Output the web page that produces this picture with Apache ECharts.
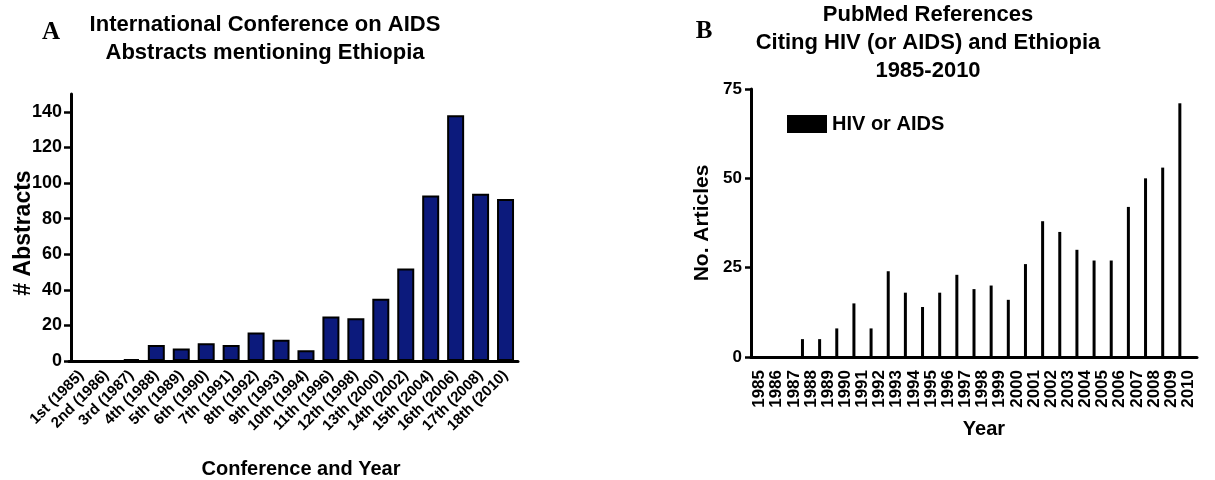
<!DOCTYPE html>
<html><head><meta charset="utf-8">
<script src="https://cdn.jsdelivr.net/npm/echarts@6/dist/echarts.min.js"></script>
<style>html,body{margin:0;padding:0;background:#fff}#c{width:1215px;height:480px}</style>
</head><body><div id="c"></div>
<script>
const conferences = ['1st (1985)','2nd (1986)','3rd (1987)','4th (1988)','5th (1989)','6th (1990)','7th (1991)','8th (1992)','9th (1993)','10th (1994)','11th (1996)','12th (1998)','13th (2000)','14th (2002)','15th (2004)','16th (2006)','17th (2008)','18th (2010)'];
const abstracts = [0,0,1,9,7,10,9,16,12,6,25,24,35,52,93,138,94,91];
const abstractTicks = [0,20,40,60,80,100,120,140];
const years = ['1985','1986','1987','1988','1989','1990','1991','1992','1993','1994','1995','1996','1997','1998','1999','2000','2001','2002','2003','2004','2005','2006','2007','2008','2009','2010'];
const articles = [0,0,0,5,5,8,15,8,24,18,14,18,23,19,20,16,26,38,35,30,27,27,42,50,53,71];
const articleTicks = [0,25,50,75];
const edges = years.concat(['']);

const font = "'Liberation Sans', Arial, Helvetica, sans-serif";
const chart = echarts.init(document.getElementById('c'));
const black = '#000';
chart.setOption({
  animation: false,
  textStyle: {fontFamily: font, color: black},
  graphic: [
    {type:'text', x:265, y:11, style:{text:'International Conference on AIDS\nAbstracts mentioning Ethiopia', align:'center', verticalAlign:'top', font:"bold 22px " + font, lineHeight:28, fill:black}},
    {type:'text', x:928, y:1, style:{text:'PubMed References\nCiting HIV (or AIDS) and Ethiopia\n1985-2010', align:'center', verticalAlign:'top', font:"bold 22px " + font, lineHeight:28, fill:black}},
    {type:'text', x:51, y:33, style:{text:'A', align:'center', verticalAlign:'middle', font:"bold 25px 'Liberation Serif', 'Times New Roman', serif", fill:black}},
    {type:'text', x:704, y:32, style:{text:'B', align:'center', verticalAlign:'middle', font:"bold 25px 'Liberation Serif', 'Times New Roman', serif", fill:black}}
  ],
  legend: {
    data: ['HIV or AIDS'], left: 787, top: 114, padding: 0,
    itemWidth: 40, itemHeight: 18, icon: 'rect', selectedMode: false,
    textStyle: {fontSize: 20, fontWeight: 'bold', color: black, fontFamily: font}
  },
  grid: [
    {left: 69, top: 94, width: 449, height: 267, outerBoundsMode: 'none', containLabel: false},
    {left: 751, top: 89, width: 446, height: 268, outerBoundsMode: 'none', containLabel: false}
  ],
  xAxis: [
    {gridIndex: 0, type: 'category', data: conferences,
     axisLine: {lineStyle: {color: black, width: 3}},
     axisTick: {show: false},
     axisLabel: {interval: 0, rotate: 45, fontSize: 15, fontWeight: 'bold', color: black, margin: 12},
     name: 'Conference and Year', nameLocation: 'middle', nameGap: 98, nameMoveOverlap: false,
     nameTextStyle: {fontSize: 20, fontWeight: 'bold', color: black, padding: [0,0,0,15]}},
    {gridIndex: 1, type: 'category', data: years,
     axisLine: {lineStyle: {color: black, width: 3}},
     axisTick: {alignWithLabel: true, interval: 0, length: 9, lineStyle: {color: black, width: 3}},
     axisLabel: {interval: 0, rotate: 90, fontSize: 17, fontWeight: 'bold', color: black, margin: 13},
     name: 'Year', nameLocation: 'middle', nameGap: 62, nameMoveOverlap: false,
     nameTextStyle: {fontSize: 20, fontWeight: 'bold', color: black, padding: [0,0,0,20]}},
    {gridIndex: 1, type: 'category', data: edges, boundaryGap: false, show: false, position: 'top'}
  ],
  yAxis: [
    {gridIndex: 0, type: 'value', min: 0, max: 150, offset: -2,
     axisLine: {show: true, lineStyle: {color: black, width: 3}},
     axisTick: {show: true, customValues: abstractTicks, length: 7, lineStyle: {color: black, width: 2.5}},
     axisLabel: {customValues: abstractTicks, fontSize: 18, fontWeight: 'bold', color: black, margin: 9},
     splitLine: {show: false},
     name: '# Abstracts', nameLocation: 'middle', nameGap: 36, nameMoveOverlap: false,
     nameTextStyle: {fontSize: 23, fontWeight: 'bold', color: black, padding: [0,11,0,0]}},
    {gridIndex: 1, type: 'value', min: 0, max: 75, interval: 25,
     axisLine: {show: true, lineStyle: {color: black, width: 3}},
     axisTick: {show: true, length: 6, lineStyle: {color: black, width: 2.5}},
     axisLabel: {fontSize: 17, fontWeight: 'bold', color: black, margin: 9, customValues: articleTicks},
     splitLine: {show: false},
     name: 'No. Articles', nameLocation: 'middle', nameGap: 38, nameMoveOverlap: false,
     nameTextStyle: {fontSize: 21, fontWeight: 'bold', color: black}}
  ],
  series: [
    {type: 'bar', name: 'Abstracts', xAxisIndex: 0, yAxisIndex: 0, data: abstracts, barWidth: 17,
     itemStyle: {color: '#0c1a7c', borderColor: black, borderWidth: 2}},
    {type: 'bar', name: 'HIV or AIDS', xAxisIndex: 2, yAxisIndex: 1, data: articles, barWidth: 3,
     itemStyle: {color: black}}
  ]
});
</script></body></html>
